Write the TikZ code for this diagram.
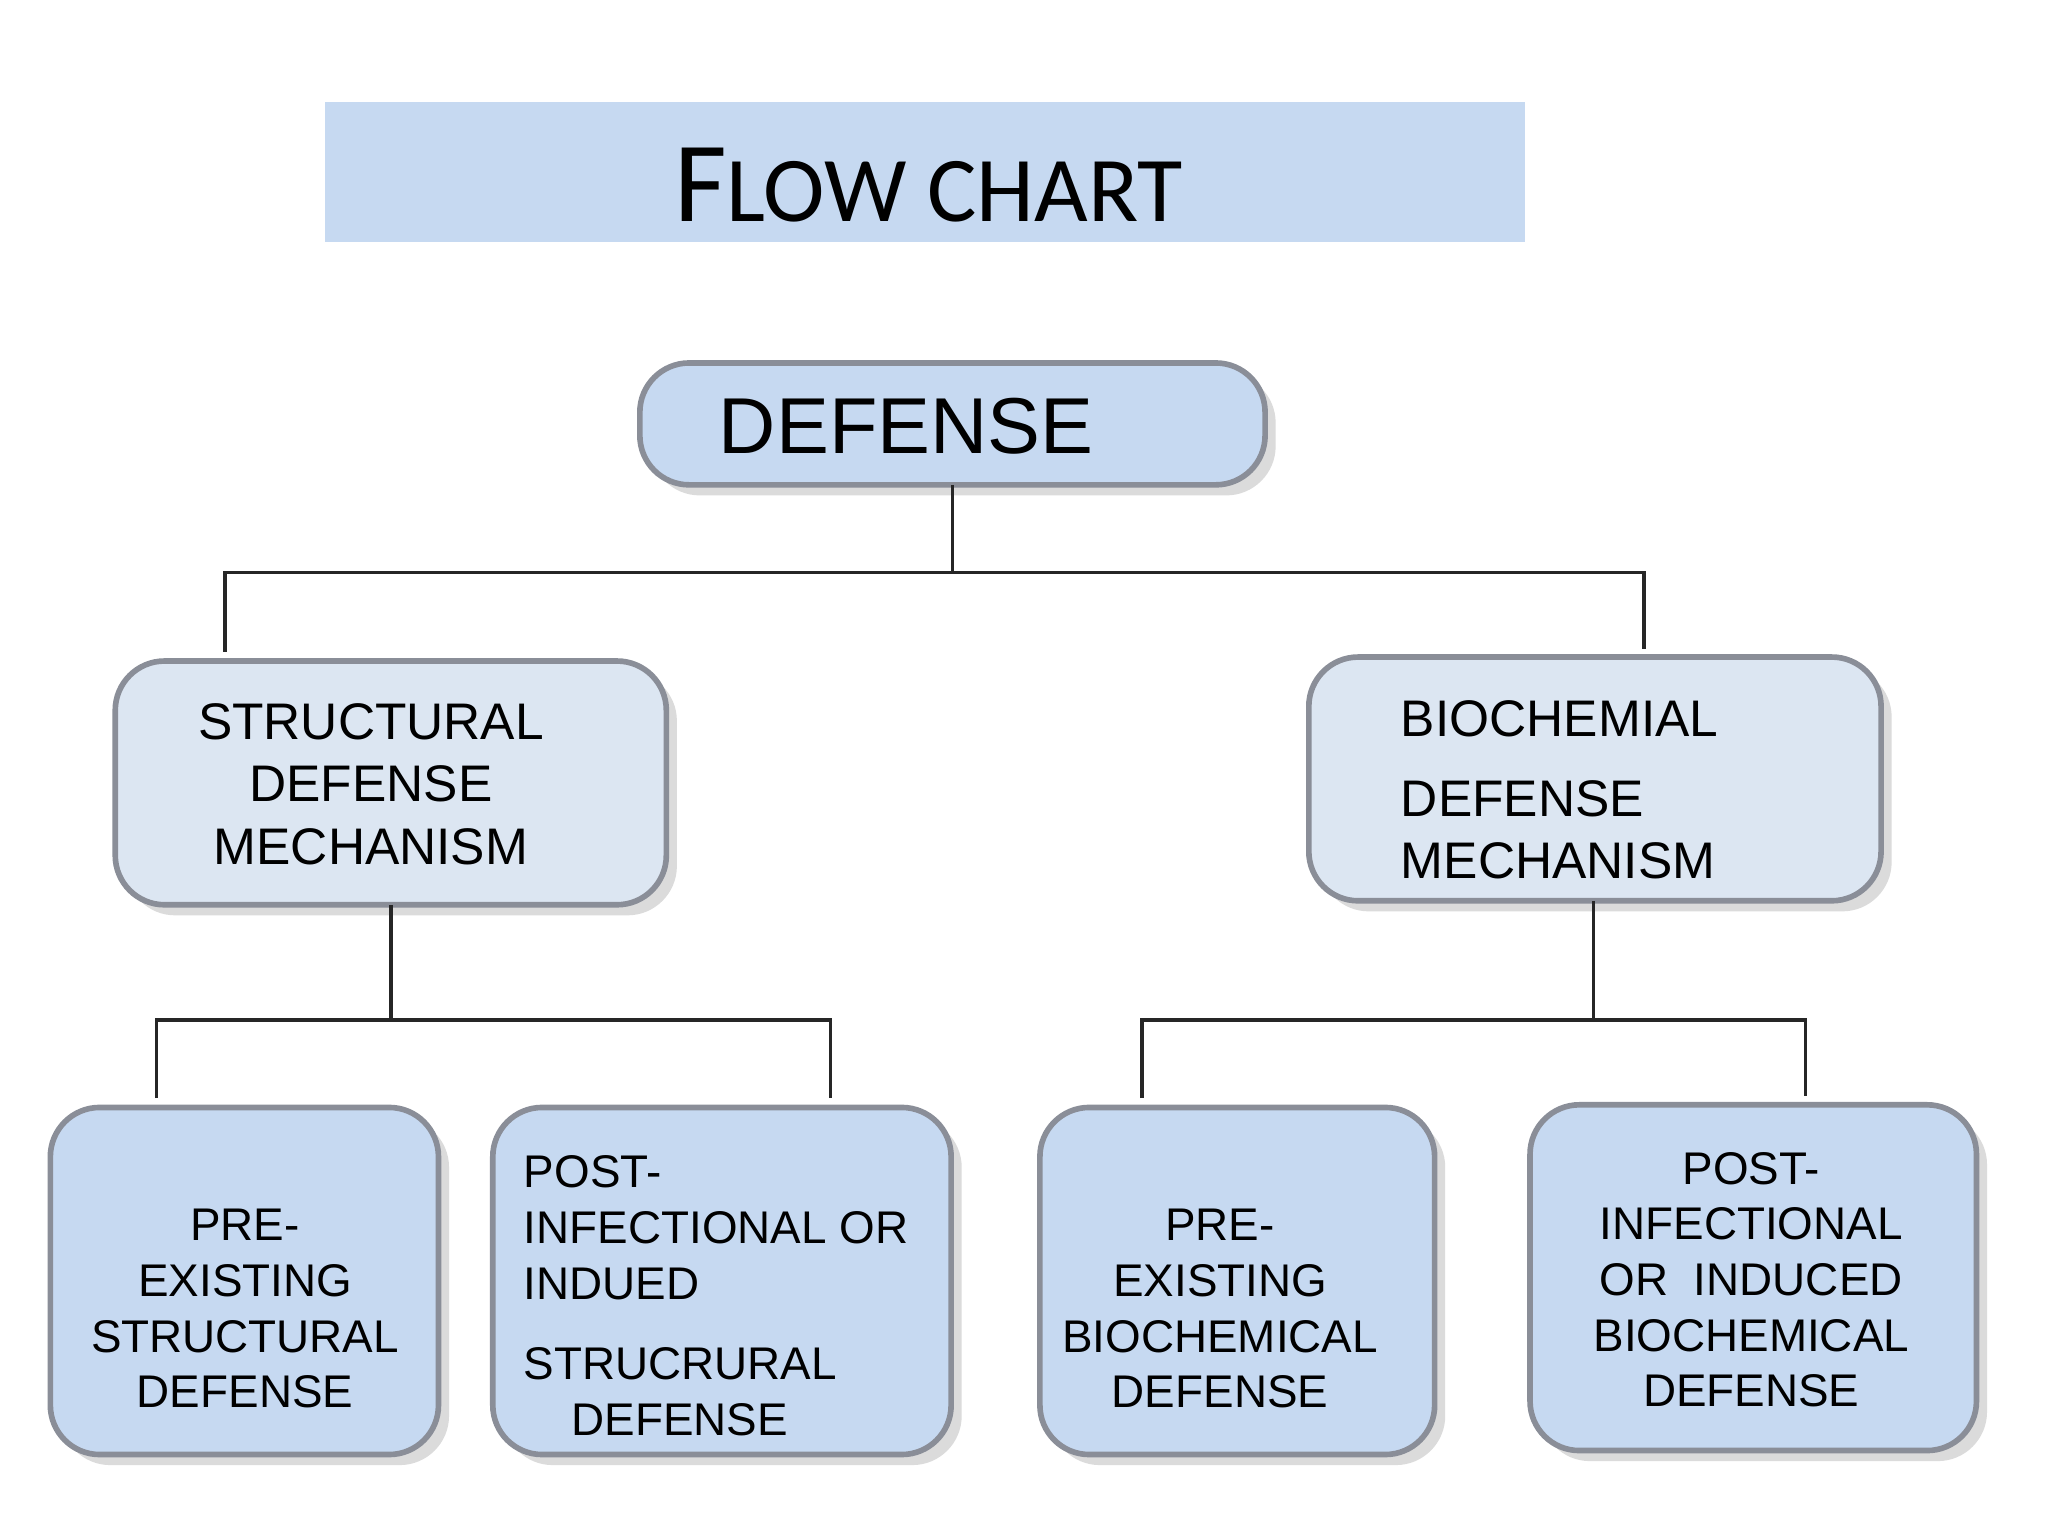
\documentclass[tikz,border=0pt]{standalone}
\usepackage{fontspec}
\setmainfont{Liberation Sans}
\newfontfamily\titlefont{Carlito}
\usetikzlibrary{shadows}
\definecolor{boxblue}{HTML}{C6D9F1}
\definecolor{boxlight}{HTML}{DCE6F2}
\definecolor{boxedge}{HTML}{8A8E98}
\begin{document}
\begin{tikzpicture}[x=0.01321cm,y=-0.01321cm,
  box/.style={draw=boxedge,line width=1.6pt,rounded corners=14pt,
    drop shadow={shadow xshift=3pt,shadow yshift=-3pt,opacity=0.35,fill=black!40}},
  txt/.style={inner sep=0pt},
  mid/.style={txt,font=\fontsize{14.6pt}{17.7pt}\selectfont},
  small/.style={txt,font=\fontsize{13pt}{15.8pt}\selectfont},
  conn/.style={draw=black!85,line width=1pt}]
\useasboundingbox (0,0) rectangle (1546,1160);
\fill[white] (0,0) rectangle (1546,1160);
% title
\fill[boxblue] (245,77) rectangle (1151,183);
\node[txt] (title) at (701,140) {\titlefont\fontsize{32.5pt}{32.5pt}\selectfont F\fontsize{26.3pt}{26.3pt}\selectfont LOW CHART};
% boxes
\path[box,fill=boxblue] (483,274) rectangle (955,366);
\coordinate (def) at (719,366);
\node[txt] (deft) at (684,322) {\fontsize{22.5pt}{22.5pt}\selectfont DEFENSE};
\path[box,fill=boxlight] (87,499) rectangle (503,683);
\node[mid,align=center] (st) at (280,592) {STRUCTURAL\\DEFENSE\\MECHANISM};
\path[box,fill=boxlight] (988,496) rectangle (1420,680);
\node[mid,align=left,anchor=west] (bi) at (1057,596) {BIOCHEMIAL\\[5pt]DEFENSE\\MECHANISM};
\path[box,fill=boxblue] (38,836) rectangle (331,1098);
\node[small,align=center] (b1) at (185,988) {PRE-\\EXISTING\\STRUCTURAL\\DEFENSE};
\path[box,fill=boxblue] (372,836) rectangle (718,1098);
\node[small,align=left,anchor=north west] (b2) at (395,872) {POST-\\INFECTIONAL OR\\INDUED\\[7pt]STRUCRURAL\\\hspace*{13.5pt}DEFENSE};
\path[box,fill=boxblue] (785,836) rectangle (1083,1098);
\node[small,align=center] (b3) at (921,988) {PRE-\\EXISTING\\BIOCHEMICAL\\DEFENSE};
\path[box,fill=boxblue] (1155,834) rectangle (1492,1095);
\node[small,align=center] (b4) at (1322,966) {POST-\\INFECTIONAL\\OR\ \ INDUCED\\BIOCHEMICAL\\DEFENSE};
% connectors
\coordinate (j0) at (719,432);
\coordinate (jl) at (170,432); \coordinate (jr) at (1241,432);
\coordinate (el) at (170,492); \coordinate (er) at (1241,490);
\draw[conn] (def) -- (j0);
\draw[conn] (el) -- (jl) -- (jr) -- (er);
\coordinate (s1) at (295,683); \coordinate (s2) at (295,770);
\coordinate (l1) at (118,770); \coordinate (l2) at (627,770);
\coordinate (m1) at (118,829); \coordinate (m2) at (627,829);
\draw[conn] (s1) -- (s2);
\draw[conn] (m1) -- (l1) -- (l2) -- (m2);
\coordinate (r1) at (1203,680); \coordinate (r2) at (1203,770);
\coordinate (k1) at (862,770); \coordinate (k2) at (1363,770);
\coordinate (n1) at (862,829); \coordinate (n2) at (1363,827);
\draw[conn] (r1) -- (r2);
\draw[conn] (n1) -- (k1) -- (k2) -- (n2);
\end{tikzpicture}
\end{document}
